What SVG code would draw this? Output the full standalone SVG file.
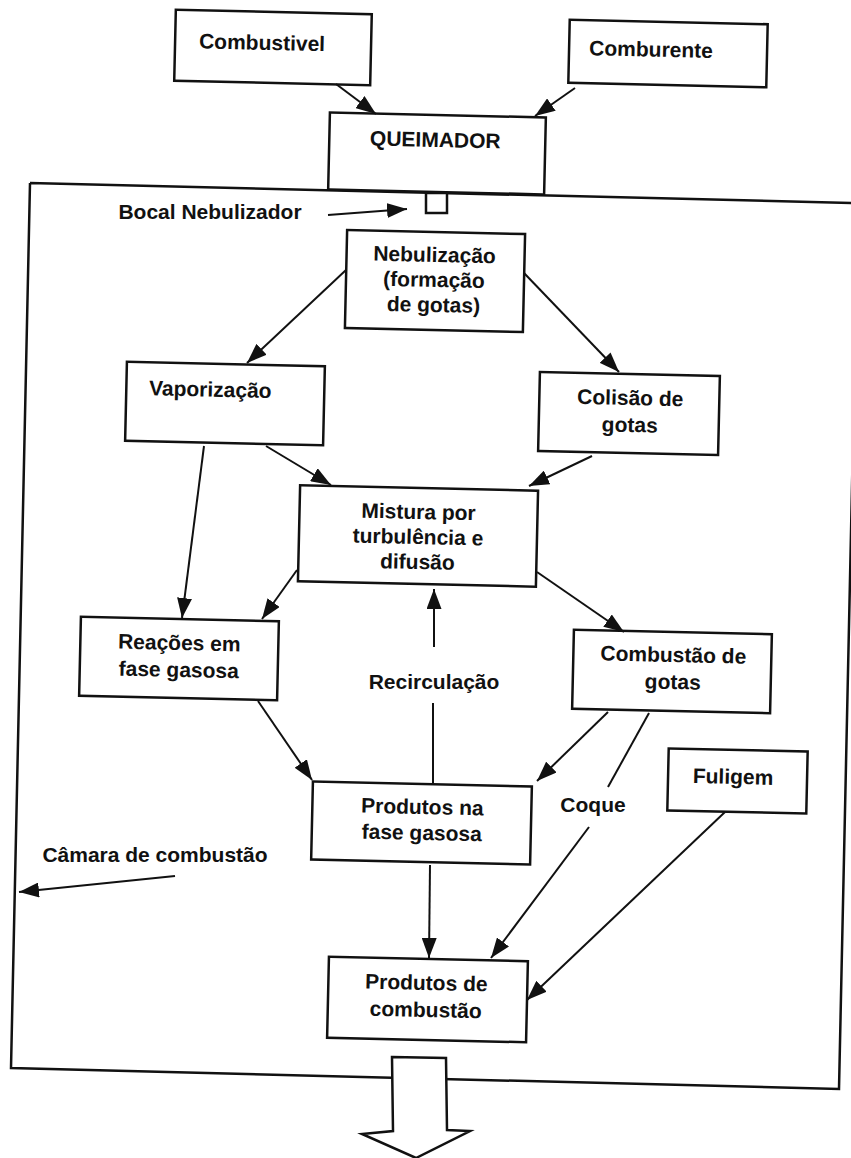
<svg xmlns="http://www.w3.org/2000/svg" width="851" height="1158" viewBox="0 0 851 1158">
<style>
.box{fill:#fff;stroke:#111;stroke-width:2.5}
.t{font-family:"Liberation Sans",Arial,sans-serif;font-weight:bold;font-size:21px;fill:#111;text-anchor:middle}
.c{stroke:#111;stroke-width:2;fill:none}
.frame{stroke:#111;stroke-width:2.5;fill:none}
</style>
<defs>
<marker id="ah" markerUnits="userSpaceOnUse" markerWidth="20" markerHeight="15" refX="20" refY="7.5" orient="auto">
<path d="M0,0 L20,7.5 L0,15 z" fill="#111"/>
</marker>
</defs>
<rect width="851" height="1158" fill="#fff"/>

<g id="camara">
<path class="frame" d="M30,183 L853,203 M30,183 L11,1068 L839,1089 L853,440"/>
</g>

<g id="combustivel" transform="rotate(1.3 273 47.5)">
<rect class="box" x="175" y="12" width="196" height="71"/>
<text class="t" x="262" y="50">Combustivel</text>
</g>
<g id="comburente" transform="rotate(1.3 668 53.5)">
<rect class="box" x="569" y="22" width="198" height="63"/>
<text class="t" x="651" y="57">Comburente</text>
</g>
<g id="queimador" transform="rotate(1.3 437 154)">
<rect class="box" x="329" y="115" width="216" height="77"/>
<text class="t" x="435" y="147">QUEIMADOR</text>
</g>
<g id="bocal">
<rect class="box" x="426" y="193" width="21" height="20" stroke-width="2"/>
<text class="t" x="210" y="219">Bocal Nebulizador</text>
</g>
<g id="nebulizacao" transform="rotate(1.3 435 281)">
<rect class="box" x="346" y="232" width="178" height="98"/>
<text class="t" x="434" y="262">Nebulização</text>
<text class="t" x="434" y="287">(formação</text>
<text class="t" x="434" y="312">de gotas)</text>
</g>
<g id="vaporizacao" transform="rotate(1.3 225 403.5)">
<rect class="box" x="126" y="364" width="198" height="79"/>
<text class="t" x="210" y="397">Vaporização</text>
</g>
<g id="colisao" transform="rotate(1.3 629 413.5)">
<rect class="box" x="539" y="374" width="180" height="79"/>
<text class="t" x="630" y="405">Colisão de</text>
<text class="t" x="630" y="432">gotas</text>
</g>
<g id="mistura" transform="rotate(1.3 418 536)">
<rect class="box" x="299" y="488" width="238" height="96"/>
<text class="t" x="418" y="519">Mistura por</text>
<text class="t" x="418" y="544">turbulência e</text>
<text class="t" x="418" y="569">difusão</text>
</g>
<g id="reacoes" transform="rotate(1.3 179 658.5)">
<rect class="box" x="80" y="619" width="198" height="79"/>
<text class="t" x="179" y="650">Reações em</text>
<text class="t" x="179" y="677">fase gasosa</text>
</g>
<g id="combustao-gotas" transform="rotate(1.3 672 671.5)">
<rect class="box" x="573" y="632" width="198" height="79"/>
<text class="t" x="673" y="662">Combustão de</text>
<text class="t" x="673" y="689">gotas</text>
</g>
<g id="recirculacao">
<text class="t" x="434" y="689">Recirculação</text>
</g>
<g id="produtos-gasosa" transform="rotate(1.3 421.5 823.5)">
<rect class="box" x="312" y="784" width="219" height="78"/>
<text class="t" x="422" y="814">Produtos na</text>
<text class="t" x="422" y="840">fase gasosa</text>
</g>
<g id="coque">
<text class="t" x="593" y="812">Coque</text>
</g>
<g id="fuligem" transform="rotate(1.3 737.5 780.5)">
<rect class="box" x="668" y="750" width="139" height="62"/>
<text class="t" x="733" y="784">Fuligem</text>
</g>
<g id="produtos-combustao" transform="rotate(1.3 427.5 999.5)">
<rect class="box" x="328" y="959" width="199" height="81"/>
<text class="t" x="426" y="990">Produtos de</text>
<text class="t" x="426" y="1017">combustão</text>
</g>
<g id="camara-label">
<text class="t" x="155" y="862">Câmara de combustão</text>
</g>
<g id="saida">
<path d="M392,1057 L446,1058 L447,1130 L470,1131 L416,1158 L362,1134 L393,1131 z" fill="#fff" stroke="#111" stroke-width="2.5" stroke-linejoin="miter"/>
</g>

<g id="connectors">
<line class="c" x1="336" y1="84" x2="376" y2="114" marker-end="url(#ah)"/>
<line class="c" x1="575" y1="88" x2="535" y2="116" marker-end="url(#ah)"/>
<line class="c" x1="328" y1="215" x2="407" y2="209" marker-end="url(#ah)"/>
<line class="c" x1="346" y1="270" x2="247" y2="363" marker-end="url(#ah)"/>
<line class="c" x1="524" y1="273" x2="619" y2="372" marker-end="url(#ah)"/>
<line class="c" x1="266" y1="446" x2="331" y2="485" marker-end="url(#ah)"/>
<line class="c" x1="592" y1="456" x2="529" y2="486" marker-end="url(#ah)"/>
<line class="c" x1="204" y1="446" x2="182" y2="618" marker-end="url(#ah)"/>
<line class="c" x1="297" y1="570" x2="262" y2="619" marker-end="url(#ah)"/>
<line class="c" x1="537" y1="572" x2="624" y2="632" marker-end="url(#ah)"/>
<line class="c" x1="433" y1="783" x2="433" y2="703"/>
<line class="c" x1="434" y1="647" x2="434" y2="589" marker-end="url(#ah)"/>
<line class="c" x1="258" y1="701" x2="312" y2="780" marker-end="url(#ah)"/>
<line class="c" x1="608" y1="712" x2="537" y2="781" marker-end="url(#ah)"/>
<line class="c" x1="649" y1="713" x2="608" y2="787"/>
<line class="c" x1="589" y1="827" x2="491" y2="958" marker-end="url(#ah)"/>
<line class="c" x1="725" y1="812" x2="527" y2="1000" marker-end="url(#ah)"/>
<line class="c" x1="430" y1="865" x2="429" y2="958" marker-end="url(#ah)"/>
<line class="c" x1="175" y1="876" x2="19" y2="892" marker-end="url(#ah)"/>
</g>
</svg>
